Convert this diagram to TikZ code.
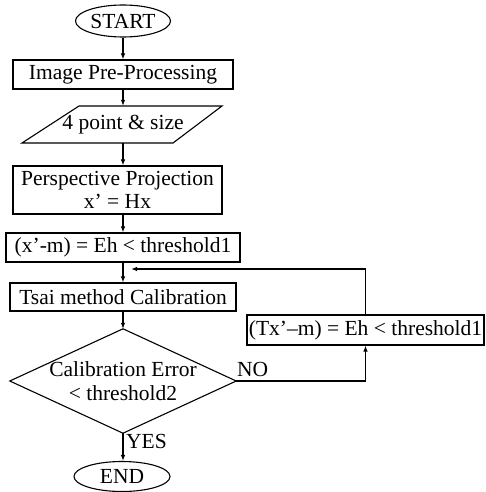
\documentclass[tikz,border=0pt]{standalone}
\usepackage{fontspec}
\setmainfont{Liberation Serif}
\usetikzlibrary{arrows.meta,shapes.geometric}
\begin{document}
\begin{tikzpicture}[x=1pt,y=-1pt,
  lbl/.style={font=\fontsize{21.5}{23}\selectfont},
  box/.style={draw,line width=1.1pt,inner sep=0pt,align=center,lbl},
  txt/.style={inner sep=0pt,align=center,lbl},
  shp/.style={line width=1.1pt},
  flow/.style={line width=1.1pt,-{Latex[length=6pt,width=4.5pt]}},
]
\useasboundingbox (0,0) rectangle (486,492);
\node[box,ellipse,minimum width=95pt,minimum height=32pt] (start) at (123,21) {START};
\node[box,minimum width=220pt,minimum height=29pt] (pre) at (123,74.5) {Image Pre-Processing};
\node[txt,minimum width=120pt,minimum height=37pt] (pts) at (123,124.5) {4 point \& size};
\draw[shp] (79,106) -- (222,106) -- (173,143) -- (22,143) -- cycle;
\node[box,minimum width=209pt,minimum height=48pt] (persp) at (117.5,190) {Perspective Projection\\x’ = Hx};
\node[box,minimum width=234pt,minimum height=29pt] (eh) at (123,247.5) {(x’-m) = Eh < threshold1};
\node[box,minimum width=226pt,minimum height=28pt] (tsai) at (123,297) {Tsai method Calibration};
\node[txt,minimum width=226pt,minimum height=104pt,text depth=0pt] (dec) at (123,381) {Calibration Error\\[1pt]< threshold2};
\draw[shp] (dec.west) -- (dec.north) -- (dec.east) -- (dec.south) -- cycle;
\node[box,ellipse,minimum width=96pt,minimum height=30pt] (end) at (122,476.5) {END};
\node[box,minimum width=237pt,minimum height=30pt] (tx) at (365.5,330) {(Tx’–m) = Eh < threshold1};
\coordinate (join) at (123,269);
\node[txt,anchor=west] (yes) at (126,441) {YES};
\node[txt,anchor=west] (no) at (237,369) {NO};
\draw[flow] (start.south) -- (start.south |- pre.north);
\draw[flow] (pre.south) -- (pre.south |- pts.north);
\draw[flow] (pts.south) -- (pts.south |- persp.north);
\draw[flow] (persp.south -| pts.south) -- (pts.south |- eh.north);
\draw[flow] (eh.south) -- (eh.south |- tsai.north);
\draw[flow] (tsai.south) -- (dec.north);
\draw[flow] (dec.south) -- (dec.south |- end.north);
\draw[flow] (dec.east) -| (tx.south);
\draw[flow] (tx.north) |- ([xshift=8pt]join);
\end{tikzpicture}
\end{document}
